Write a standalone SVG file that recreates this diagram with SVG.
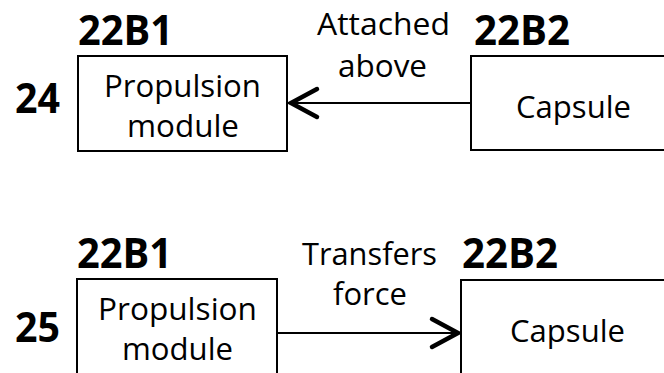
<svg xmlns="http://www.w3.org/2000/svg" width="664" height="373" viewBox="0 0 664 373">
<style>
.box{fill:#fff;stroke:#000;stroke-width:2}
.lbl{font-family:"Open Sans","Liberation Sans",sans-serif;font-size:31px;fill:#000}
.id{font-family:"Open Sans","Liberation Sans",sans-serif;font-size:41px;font-weight:bold;fill:#000}
.edge{stroke:#000;stroke-width:2.2;fill:none}
</style>
<defs>
<marker id="chev" markerUnits="userSpaceOnUse" markerWidth="44" markerHeight="44" viewBox="-38 -22 44 44" refX="0" refY="0" orient="auto" overflow="visible">
<path d="M-29,-14 L-3,0 L-29,14" fill="none" stroke="#000" stroke-width="4.5" stroke-linecap="round" stroke-linejoin="miter"/>
</marker>
</defs>
<rect width="664" height="373" fill="#fff"/>

<g id="connectors">
<line class="edge" x1="471" y1="103" x2="288" y2="103" marker-end="url(#chev)"/>
<line class="edge" x1="277" y1="333" x2="461" y2="333" marker-end="url(#chev)"/>
<text class="lbl" x="317" y="35" textLength="133" lengthAdjust="spacingAndGlyphs">Attached</text>
<text class="lbl" x="338" y="77" textLength="89" lengthAdjust="spacingAndGlyphs">above</text>
<text class="lbl" x="302" y="265" textLength="135" lengthAdjust="spacingAndGlyphs">Transfers</text>
<text class="lbl" x="333" y="305" textLength="74" lengthAdjust="spacingAndGlyphs">force</text>
</g>

<g id="label24">
<text class="id" x="15" y="113" textLength="45" lengthAdjust="spacingAndGlyphs">24</text>
</g>
<g id="top-propulsion">
<rect class="box" x="78" y="56" width="209" height="95"/>
<text class="id" x="78" y="45" textLength="95" lengthAdjust="spacingAndGlyphs">22B1</text>
<text class="lbl" x="104" y="97" textLength="157" lengthAdjust="spacingAndGlyphs">Propulsion</text>
<text class="lbl" x="127" y="137" textLength="112" lengthAdjust="spacingAndGlyphs">module</text>
</g>
<g id="top-capsule">
<rect class="box" x="471" y="56" width="210" height="94"/>
<text class="id" x="474" y="45" textLength="96" lengthAdjust="spacingAndGlyphs">22B2</text>
<text class="lbl" x="516" y="118" textLength="115" lengthAdjust="spacingAndGlyphs">Capsule</text>
</g>

<g id="label25">
<text class="id" x="15" y="342" textLength="45" lengthAdjust="spacingAndGlyphs">25</text>
</g>
<g id="bottom-propulsion">
<rect class="box" x="77" y="279" width="200" height="110"/>
<text class="id" x="77" y="268" textLength="95" lengthAdjust="spacingAndGlyphs">22B1</text>
<text class="lbl" x="98" y="320" textLength="159" lengthAdjust="spacingAndGlyphs">Propulsion</text>
<text class="lbl" x="122" y="360" textLength="111" lengthAdjust="spacingAndGlyphs">module</text>
</g>
<g id="bottom-capsule">
<rect class="box" x="461" y="280" width="220" height="110"/>
<text class="id" x="462" y="268" textLength="96" lengthAdjust="spacingAndGlyphs">22B2</text>
<text class="lbl" x="510" y="342" textLength="115" lengthAdjust="spacingAndGlyphs">Capsule</text>
</g>
</svg>
